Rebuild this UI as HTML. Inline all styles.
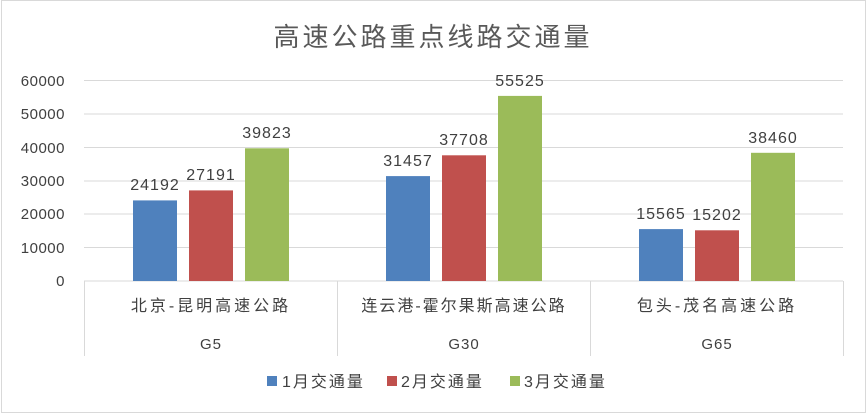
<!DOCTYPE html>
<html><head><meta charset="utf-8"><style>
body{margin:0;background:#fff}
svg{display:block}
text{font-family:"Liberation Sans","Noto Sans CJK SC",sans-serif;fill:#404040}
</style></head><body>
<svg width="867" height="414" xmlns="http://www.w3.org/2000/svg">
<rect x="1.5" y="0.5" width="864" height="412" fill="#fff" stroke="#d9d9d9"/>
<text x="433" y="46" font-size="26" text-anchor="middle" letter-spacing="3" style="fill:#595959">高速公路重点线路交通量</text>
<g stroke="#d9d9d9" stroke-width="1">
<line x1="84" x2="843" y1="80.5" y2="80.5"/>
<line x1="84" x2="843" y1="114" y2="114"/>
<line x1="84" x2="843" y1="147.5" y2="147.5"/>
<line x1="84" x2="843" y1="181" y2="181"/>
<line x1="84" x2="843" y1="214" y2="214"/>
<line x1="84" x2="843" y1="247.5" y2="247.5"/>
<line x1="84" x2="843" y1="281" y2="281"/>
<line x1="84.5" x2="84.5" y1="281" y2="356"/>
<line x1="337.5" x2="337.5" y1="281" y2="356"/>
<line x1="590.5" x2="590.5" y1="281" y2="356"/>
<line x1="843.5" x2="843.5" y1="281" y2="356"/>
</g>
<g font-size="15" text-anchor="end" letter-spacing="0.5">
<text x="65" y="86">60000</text>
<text x="65" y="119">50000</text>
<text x="65" y="153">40000</text>
<text x="65" y="186">30000</text>
<text x="65" y="219">20000</text>
<text x="65" y="253">10000</text>
<text x="65" y="286">0</text>
</g>
<g>
<rect x="133" y="200.4" width="44" height="80.6" fill="#4f81bd"/>
<rect x="189" y="190.4" width="44" height="90.6" fill="#c0504d"/>
<rect x="245" y="148.3" width="44" height="132.7" fill="#9bbb59"/>
<rect x="386" y="176.1" width="44" height="104.9" fill="#4f81bd"/>
<rect x="442" y="155.3" width="44" height="125.7" fill="#c0504d"/>
<rect x="498" y="95.9" width="44" height="185.1" fill="#9bbb59"/>
<rect x="639" y="229.1" width="44" height="51.9" fill="#4f81bd"/>
<rect x="695" y="230.3" width="44" height="50.7" fill="#c0504d"/>
<rect x="751" y="152.8" width="44" height="128.2" fill="#9bbb59"/>
</g>
<g font-size="16" text-anchor="middle" letter-spacing="1">
<text x="155" y="190">24192</text>
<text x="211" y="180">27191</text>
<text x="267" y="138">39823</text>
<text x="408" y="166">31457</text>
<text x="464" y="145">37708</text>
<text x="520" y="86">55525</text>
<text x="661" y="219">15565</text>
<text x="717" y="220">15202</text>
<text x="773" y="143">38460</text>
</g>
<g font-size="16" text-anchor="middle">
<text x="211" y="311" letter-spacing="3">北京-昆明高速公路</text>
<text x="464" y="311" letter-spacing="2">连云港-霍尔果斯高速公路</text>
<text x="717" y="311" letter-spacing="3">包头-茂名高速公路</text>
<text x="211" y="349" font-size="15" letter-spacing="1">G5</text>
<text x="464" y="349" font-size="15" letter-spacing="1">G30</text>
<text x="717" y="349" font-size="15" letter-spacing="1">G65</text>
</g>
<g font-size="16" letter-spacing="2">
<rect x="267" y="376" width="10" height="10" fill="#4f81bd"/>
<text x="282" y="387">1月交通量</text>
<rect x="387" y="376" width="10" height="10" fill="#c0504d"/>
<text x="401" y="387">2月交通量</text>
<rect x="510" y="376" width="10" height="10" fill="#9bbb59"/>
<text x="524" y="387">3月交通量</text>
</g>
</svg>
</body></html>
